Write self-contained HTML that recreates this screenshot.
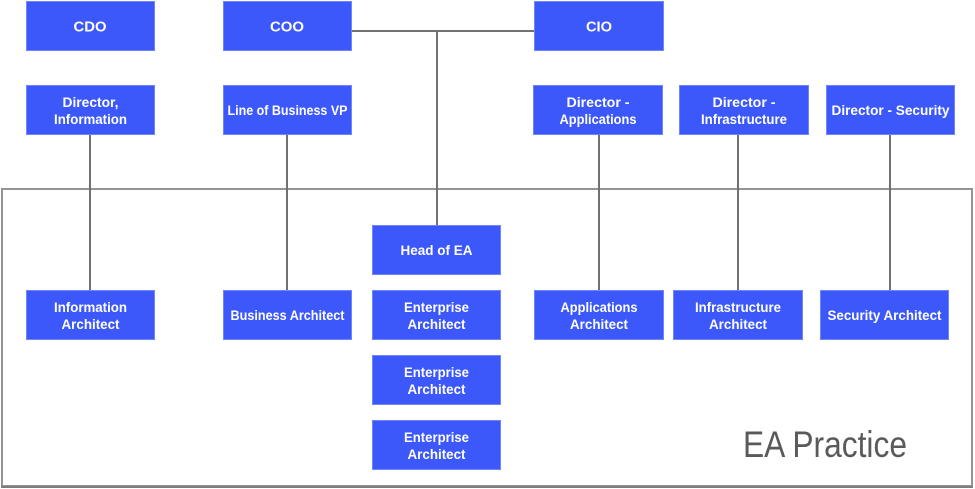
<!DOCTYPE html>
<html>
<head>
<meta charset="utf-8">
<style>
html,body{margin:0;padding:0;background:#fff;}
svg{display:block;}
.b{fill:#3c58fb;stroke:#6f86fb;stroke-width:1;}
.t{font-family:"Liberation Sans",sans-serif;font-weight:bold;font-size:13.5px;fill:#fff;text-anchor:middle;}
.h{font-size:14.5px;}
.c{stroke:#717171;stroke-width:2;fill:none;}
</style>
</head>
<body>
<svg width="975" height="489" viewBox="0 0 975 489" xmlns="http://www.w3.org/2000/svg">
<!-- EA Practice box -->
<rect x="2" y="189" width="970" height="297" fill="none" stroke="#939594" stroke-width="2"/>
<line x1="1" y1="487" x2="973" y2="487" stroke="#7d7f7e" stroke-width="2"/>
<text x="743" y="457" font-family="Liberation Sans, sans-serif" font-size="37" fill="#5a5a5a" textLength="164" lengthAdjust="spacingAndGlyphs">EA Practice</text>

<!-- connectors -->
<line class="c" x1="352" y1="31" x2="534" y2="31"/>
<line class="c" x1="437" y1="31" x2="437" y2="225"/>
<line class="c" x1="90" y1="135" x2="90" y2="290"/>
<line class="c" x1="287" y1="135" x2="287" y2="290"/>
<line class="c" x1="599" y1="135" x2="599" y2="290"/>
<line class="c" x1="738" y1="134" x2="738" y2="290"/>
<line class="c" x1="890" y1="134" x2="890" y2="290"/>

<!-- row 1 -->
<rect class="b" x="26.5" y="1.5" width="128" height="49"/>
<text class="t h" x="90" y="31.5" textLength="33" lengthAdjust="spacingAndGlyphs">CDO</text>
<rect class="b" x="223.5" y="1.5" width="128" height="49"/>
<text class="t h" x="287" y="31.5" textLength="34" lengthAdjust="spacingAndGlyphs">COO</text>
<rect class="b" x="534.5" y="1.5" width="129" height="49"/>
<text class="t h" x="599" y="31.5" textLength="26" lengthAdjust="spacingAndGlyphs">CIO</text>

<!-- row 2 -->
<rect class="b" x="26.5" y="85.5" width="128" height="49"/>
<text class="t" x="90.5" y="107" textLength="56" lengthAdjust="spacingAndGlyphs">Director,</text>
<text class="t" x="90.5" y="124" textLength="73" lengthAdjust="spacingAndGlyphs">Information</text>
<rect class="b" x="223.5" y="85.5" width="128" height="49"/>
<text class="t" x="287.5" y="115" textLength="120" lengthAdjust="spacingAndGlyphs">Line of Business VP</text>
<rect class="b" x="533.5" y="85.5" width="129" height="49"/>
<text class="t" x="598" y="107" textLength="63" lengthAdjust="spacingAndGlyphs">Director -</text>
<text class="t" x="598" y="124" textLength="77" lengthAdjust="spacingAndGlyphs">Applications</text>
<rect class="b" x="679.5" y="85.5" width="129" height="49"/>
<text class="t" x="744" y="107" textLength="63" lengthAdjust="spacingAndGlyphs">Director -</text>
<text class="t" x="744" y="124" textLength="86" lengthAdjust="spacingAndGlyphs">Infrastructure</text>
<rect class="b" x="826.5" y="85.5" width="128" height="49"/>
<text class="t" x="890.5" y="115" textLength="118" lengthAdjust="spacingAndGlyphs">Director - Security</text>

<!-- Head of EA -->
<rect class="b" x="372.5" y="225.5" width="128" height="49"/>
<text class="t" x="436.5" y="255" textLength="72" lengthAdjust="spacingAndGlyphs">Head of EA</text>

<!-- row 3 -->
<rect class="b" x="26.5" y="290.5" width="128" height="49"/>
<text class="t" x="90.5" y="312" textLength="73" lengthAdjust="spacingAndGlyphs">Information</text>
<text class="t" x="90.5" y="329" textLength="58" lengthAdjust="spacingAndGlyphs">Architect</text>
<rect class="b" x="223.5" y="290.5" width="128" height="49"/>
<text class="t" x="287.5" y="320" textLength="114" lengthAdjust="spacingAndGlyphs">Business Architect</text>
<rect class="b" x="372.5" y="290.5" width="128" height="49"/>
<text class="t" x="436.5" y="312" textLength="65" lengthAdjust="spacingAndGlyphs">Enterprise</text>
<text class="t" x="436.5" y="329" textLength="58" lengthAdjust="spacingAndGlyphs">Architect</text>
<rect class="b" x="534.5" y="290.5" width="129" height="49"/>
<text class="t" x="599" y="312" textLength="77" lengthAdjust="spacingAndGlyphs">Applications</text>
<text class="t" x="599" y="329" textLength="58" lengthAdjust="spacingAndGlyphs">Architect</text>
<rect class="b" x="673.5" y="290.5" width="129" height="49"/>
<text class="t" x="738" y="312" textLength="86" lengthAdjust="spacingAndGlyphs">Infrastructure</text>
<text class="t" x="738" y="329" textLength="58" lengthAdjust="spacingAndGlyphs">Architect</text>
<rect class="b" x="820.5" y="290.5" width="128" height="49"/>
<text class="t" x="884.5" y="320" textLength="114" lengthAdjust="spacingAndGlyphs">Security Architect</text>

<!-- more enterprise architects -->
<rect class="b" x="372.5" y="355.5" width="128" height="49"/>
<text class="t" x="436.5" y="377" textLength="65" lengthAdjust="spacingAndGlyphs">Enterprise</text>
<text class="t" x="436.5" y="394" textLength="58" lengthAdjust="spacingAndGlyphs">Architect</text>
<rect class="b" x="372.5" y="420.5" width="128" height="49"/>
<text class="t" x="436.5" y="442" textLength="65" lengthAdjust="spacingAndGlyphs">Enterprise</text>
<text class="t" x="436.5" y="459" textLength="58" lengthAdjust="spacingAndGlyphs">Architect</text>
</svg>
</body>
</html>
